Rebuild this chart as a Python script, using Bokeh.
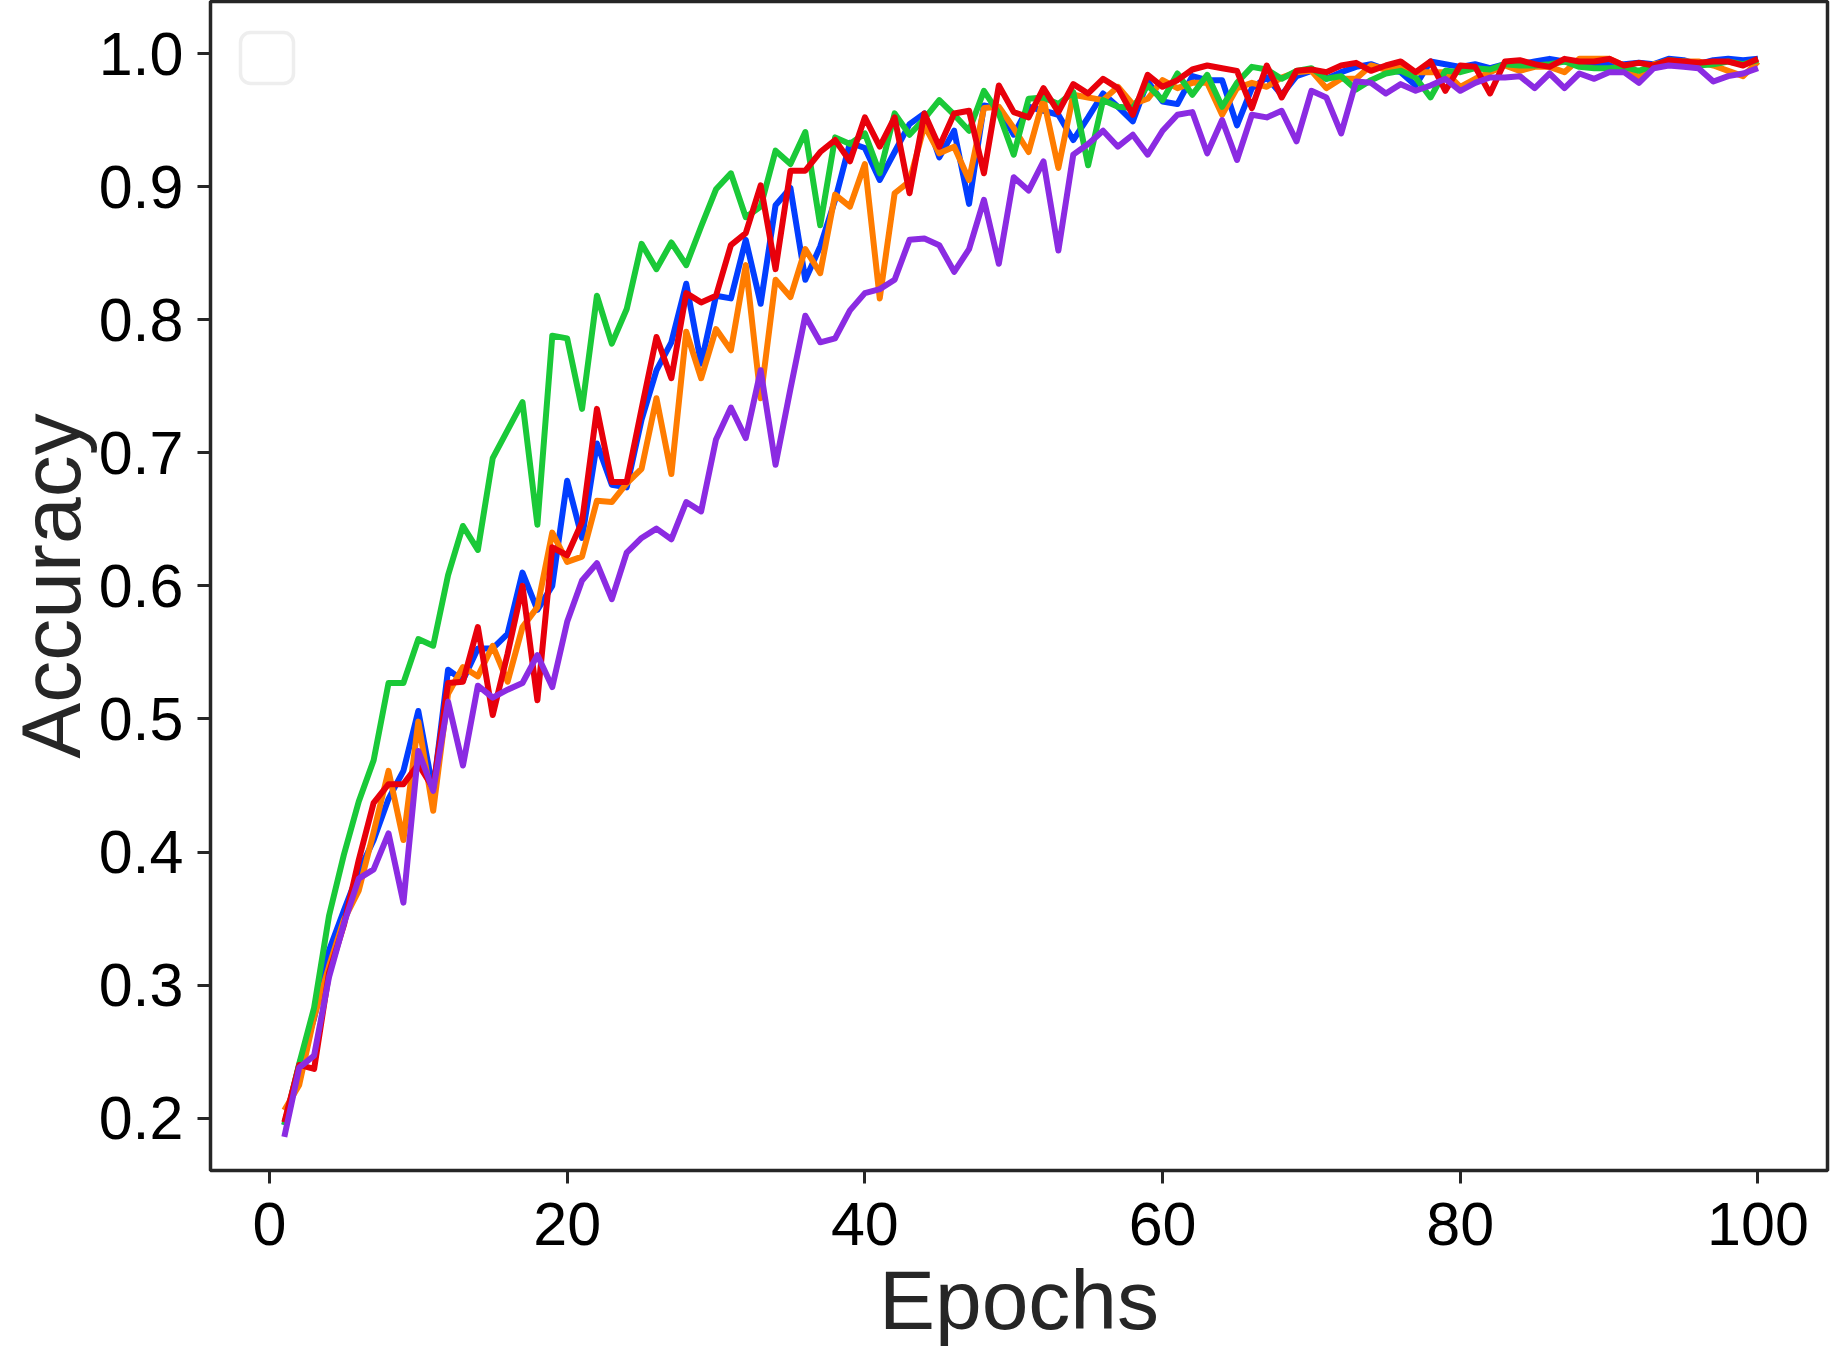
from bokeh.plotting import figure
from bokeh.models import Range1d, FixedTicker, PrintfTickFormatter, BoxAnnotation
from bokeh.embed import file_html
from bokeh.resources import INLINE

epochs = list(range(1, 101))

blue = [0.195, 0.240, 0.275, 0.326, 0.356, 0.385, 0.409, 0.440, 0.461, 0.506,
        0.446, 0.537, 0.529, 0.553, 0.553, 0.564, 0.610, 0.582, 0.600, 0.679,
        0.636, 0.707, 0.676, 0.674, 0.725, 0.762, 0.783, 0.827, 0.767, 0.818,
        0.816, 0.860, 0.812, 0.886, 0.899, 0.830, 0.855, 0.890, 0.933, 0.929,
        0.905, 0.926, 0.947, 0.955, 0.922, 0.942, 0.887, 0.961, 0.959, 0.939,
        0.960, 0.957, 0.954, 0.935, 0.952, 0.970, 0.960, 0.949, 0.979, 0.964,
        0.962, 0.983, 0.980, 0.980, 0.946, 0.974, 0.982, 0.969, 0.983, 0.987,
        0.981, 0.986, 0.990, 0.992, 0.988, 0.986, 0.976, 0.994, 0.992, 0.990,
        0.992, 0.989, 0.992, 0.992, 0.994, 0.996, 0.994, 0.993, 0.992, 0.992,
        0.992, 0.993, 0.992, 0.996, 0.995, 0.992, 0.995, 0.996, 0.995, 0.996]

orange = [0.206, 0.225, 0.276, 0.314, 0.349, 0.371, 0.415, 0.461, 0.409, 0.498,
          0.431, 0.519, 0.539, 0.532, 0.555, 0.528, 0.569, 0.584, 0.640, 0.618,
          0.622, 0.664, 0.663, 0.677, 0.688, 0.741, 0.684, 0.791, 0.756, 0.793,
          0.777, 0.841, 0.741, 0.830, 0.817, 0.853, 0.835, 0.894, 0.885, 0.917,
          0.816, 0.895, 0.904, 0.946, 0.925, 0.930, 0.905, 0.959, 0.960, 0.944,
          0.926, 0.966, 0.914, 0.969, 0.967, 0.965, 0.975, 0.962, 0.966, 0.980,
          0.974, 0.978, 0.978, 0.954, 0.974, 0.978, 0.975, 0.982, 0.986, 0.987,
          0.974, 0.981, 0.981, 0.991, 0.988, 0.991, 0.986, 0.986, 0.986, 0.975,
          0.981, 0.986, 0.991, 0.987, 0.990, 0.990, 0.986, 0.996, 0.996, 0.996,
          0.991, 0.982, 0.992, 0.994, 0.994, 0.994, 0.991, 0.987, 0.983, 0.994]

green = [0.195, 0.241, 0.283, 0.352, 0.398, 0.438, 0.469, 0.527, 0.527, 0.560,
         0.555, 0.608, 0.645, 0.627, 0.696, 0.717, 0.738, 0.646, 0.788, 0.786,
         0.733, 0.818, 0.782, 0.808, 0.857, 0.838, 0.858, 0.841, 0.870, 0.898,
         0.910, 0.877, 0.885, 0.927, 0.917, 0.941, 0.871, 0.937, 0.932, 0.940,
         0.910, 0.955, 0.939, 0.951, 0.965, 0.954, 0.942, 0.972, 0.955, 0.924,
         0.966, 0.967, 0.962, 0.971, 0.916, 0.965, 0.960, 0.959, 0.976, 0.965,
         0.985, 0.969, 0.984, 0.960, 0.978, 0.990, 0.988, 0.981, 0.987, 0.989,
         0.981, 0.983, 0.973, 0.980, 0.985, 0.987, 0.982, 0.967, 0.987, 0.986,
         0.989, 0.988, 0.992, 0.991, 0.991, 0.992, 0.994, 0.990, 0.989, 0.989,
         0.990, 0.987, 0.991, 0.995, 0.994, 0.991, 0.992, 0.994, 0.992, 0.995]

red = [0.197, 0.240, 0.237, 0.309, 0.345, 0.394, 0.437, 0.451, 0.451, 0.466,
       0.448, 0.527, 0.528, 0.569, 0.503, 0.549, 0.600, 0.514, 0.629, 0.623,
       0.648, 0.733, 0.678, 0.678, 0.733, 0.787, 0.756, 0.820, 0.813, 0.818,
       0.856, 0.865, 0.901, 0.838, 0.912, 0.912, 0.926, 0.935, 0.919, 0.952,
       0.930, 0.952, 0.895, 0.955, 0.930, 0.955, 0.957, 0.910, 0.976, 0.956,
       0.952, 0.974, 0.956, 0.977, 0.970, 0.981, 0.974, 0.954, 0.984, 0.975,
       0.980, 0.988, 0.991, 0.989, 0.987, 0.959, 0.991, 0.967, 0.987, 0.988,
       0.986, 0.991, 0.993, 0.987, 0.991, 0.994, 0.986, 0.994, 0.972, 0.991,
       0.990, 0.970, 0.994, 0.995, 0.992, 0.990, 0.996, 0.994, 0.994, 0.996,
       0.991, 0.993, 0.991, 0.995, 0.994, 0.993, 0.994, 0.994, 0.991, 0.996]

purple = [0.186, 0.238, 0.247, 0.306, 0.346, 0.380, 0.387, 0.414, 0.362, 0.476,
          0.446, 0.513, 0.465, 0.525, 0.516, 0.522, 0.527, 0.548, 0.524, 0.573,
          0.604, 0.617, 0.590, 0.625, 0.636, 0.643, 0.635, 0.663, 0.656, 0.710,
          0.734, 0.711, 0.762, 0.691, 0.748, 0.803, 0.783, 0.786, 0.807, 0.820,
          0.823, 0.830, 0.860, 0.861, 0.856, 0.836, 0.853, 0.890, 0.842, 0.907,
          0.897, 0.919, 0.852, 0.924, 0.932, 0.942, 0.930, 0.939, 0.924, 0.942,
          0.954, 0.956, 0.925, 0.950, 0.920, 0.954, 0.952, 0.957, 0.934, 0.972,
          0.967, 0.940, 0.979, 0.978, 0.970, 0.977, 0.972, 0.976, 0.981, 0.972,
          0.978, 0.982, 0.982, 0.983, 0.974, 0.985, 0.974, 0.985, 0.981, 0.986,
          0.986, 0.978, 0.989, 0.991, 0.990, 0.989, 0.979, 0.983, 0.985, 0.989]

series = [blue, orange, green, red, purple]
colors = ["#023eff", "#ff7c00", "#1ac938", "#e8000b", "#8b2be2"]

x_ticks = [0, 20, 40, 60, 80, 100]
y_ticks = [0.2, 0.3, 0.4, 0.5, 0.6, 0.7, 0.8, 0.9, 1.0]

FONT = "Liberation Sans"
DARK = "#262626"

p = figure(width=1831, height=1351, output_backend="svg", toolbar_location=None,
           x_range=Range1d(-3.96, 104.67), y_range=Range1d(0.1607, 1.0391),
           min_border_left=210, min_border_right=4, min_border_top=1,
           min_border_bottom=181)
p.background_fill_color = "white"
p.border_fill_color = "white"
p.grid.visible = False
p.outline_line_color = DARK
p.outline_line_width = 3.5

for ys, c in zip(series, colors):
    p.line(epochs, ys, line_color=c, line_width=6, line_join="round")

for ax in (p.xaxis[0], p.yaxis[0]):
    ax.axis_line_color = None
    ax.major_tick_line_color = DARK
    ax.major_tick_line_width = 3
    ax.major_tick_in = 0
    ax.major_tick_out = 13
    ax.minor_tick_line_color = None
    ax.major_label_text_font = FONT
    ax.major_label_text_font_size = "61px"
    ax.major_label_text_color = "black"
    ax.axis_label_text_font = FONT
    ax.axis_label_text_font_size = "84px"
    ax.axis_label_text_font_style = "normal"
    ax.axis_label_text_color = DARK

p.xaxis.ticker = FixedTicker(ticks=x_ticks)
p.yaxis.ticker = FixedTicker(ticks=y_ticks)
p.xaxis.formatter = PrintfTickFormatter(format="%d")
p.yaxis.formatter = PrintfTickFormatter(format="%.1f")
p.xaxis.axis_label = "Epochs"
p.yaxis.axis_label = "Accuracy"
p.xaxis.major_label_standoff = 19
p.xaxis.axis_label_standoff = 5
p.yaxis.major_label_standoff = 14
p.yaxis.axis_label_standoff = -2

# empty legend frame (top-left)
box = BoxAnnotation(left=30, right=83, top=1138, bottom=1087,
                    left_units="screen", right_units="screen",
                    top_units="screen", bottom_units="screen",
                    fill_color="white", fill_alpha=0.8,
                    line_color="#c8c8c8", line_width=3.5, border_radius=10)
p.add_layout(box)

open("out.html", "w").write(file_html(p, INLINE))
